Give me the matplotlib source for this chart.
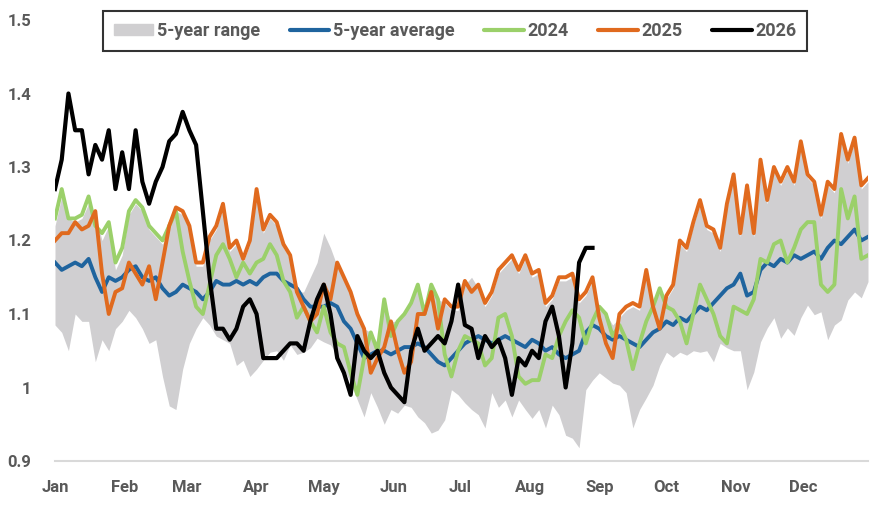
import matplotlib.pyplot as plt
import matplotlib.patches as mpatches
from matplotlib.lines import Line2D
import numpy as np

# день года (шаг 3 дня)
days = np.arange(0, 364, 3)

range_lo = [1.085, 1.075, 1.05, 1.10, 1.09, 1.09, 1.035, 1.065, 1.05, 1.08,
            1.09, 1.105, 1.095, 1.08, 1.06, 1.065, 1.015, 0.975, 0.97, 1.025,
            1.06, 1.08, 1.095, 1.085, 1.07, 1.065, 1.06, 1.03, 1.037, 1.015,
            1.025, 1.037, 1.048, 1.05, 1.037, 1.058, 1.045, 1.048, 1.054, 1.067,
            1.062, 1.058, 1.045, 1.025, 1.006, 0.983, 0.96, 0.993, 0.973, 0.95,
            0.97, 0.965, 0.976, 0.973, 0.96, 0.952, 0.938, 0.942, 0.956, 0.997,
            0.99, 0.979, 0.97, 0.963, 0.945, 0.993, 0.973, 0.983, 0.96, 0.983,
            0.97, 0.958, 0.97, 0.945, 0.976, 0.963, 0.935, 0.931, 0.918, 0.997,
            1.01, 1.02, 1.013, 1.006, 1.003, 0.993, 0.945, 0.97, 0.986, 1.003,
            1.03, 1.048, 1.041, 1.048, 1.044, 1.05, 1.048, 1.05, 1.035, 1.06,
            1.054, 1.05, 1.05, 0.997, 1.021, 1.062, 1.081, 1.095, 1.067, 1.081,
            1.071, 1.095, 1.112, 1.099, 1.103, 1.065, 1.085, 1.092, 1.119, 1.13,
            1.122, 1.144]

range_hi = [1.22, 1.26, 1.23, 1.225, 1.23, 1.25, 1.235, 1.20, 1.22, 1.16,
            1.18, 1.235, 1.25, 1.24, 1.215, 1.205, 1.195, 1.215, 1.24, 1.235,
            1.215, 1.165, 1.165, 1.20, 1.215, 1.245, 1.185, 1.195, 1.17, 1.195,
            1.26, 1.21, 1.23, 1.22, 1.19, 1.175, 1.13, 1.13, 1.15, 1.17,
            1.21, 1.19, 1.165, 1.145, 1.125, 1.10, 1.08, 1.075, 1.06, 1.115,
            1.09, 1.09, 1.10, 1.115, 1.135, 1.10, 1.14, 1.12, 1.115, 1.105,
            1.105, 1.14, 1.15, 1.135, 1.11, 1.125, 1.155, 1.165, 1.175, 1.155,
            1.175, 1.15, 1.155, 1.11, 1.12, 1.145, 1.145, 1.15, 1.115, 1.125,
            1.145, 1.105, 1.10, 1.085, 1.095, 1.105, 1.11, 1.105, 1.155, 1.11,
            1.13, 1.12, 1.135, 1.195, 1.185, 1.22, 1.25, 1.215, 1.21, 1.185,
            1.245, 1.285, 1.205, 1.27, 1.205, 1.305, 1.25, 1.295, 1.275, 1.295,
            1.275, 1.33, 1.285, 1.275, 1.23, 1.275, 1.265, 1.34, 1.305, 1.335,
            1.27, 1.28]

avg5 = [1.17, 1.16, 1.165, 1.17, 1.165, 1.175, 1.15, 1.13, 1.15, 1.145,
        1.15, 1.16, 1.165, 1.15, 1.145, 1.15, 1.135, 1.125, 1.13, 1.14,
        1.135, 1.13, 1.12, 1.13, 1.145, 1.14, 1.14, 1.145, 1.14, 1.145,
        1.14, 1.15, 1.155, 1.155, 1.145, 1.14, 1.135, 1.12, 1.11, 1.11,
        1.11, 1.115, 1.11, 1.09, 1.08, 1.06, 1.04, 1.045, 1.05, 1.05,
        1.045, 1.05, 1.055, 1.055, 1.06, 1.055, 1.045, 1.035, 1.03, 1.04,
        1.05, 1.06, 1.065, 1.07, 1.065, 1.06, 1.065, 1.07, 1.065, 1.06,
        1.055, 1.065, 1.06, 1.05, 1.055, 1.045, 1.04, 1.045, 1.05, 1.075,
        1.085, 1.08, 1.07, 1.065, 1.07, 1.065, 1.06, 1.055, 1.065, 1.075,
        1.08, 1.09, 1.085, 1.095, 1.09, 1.10, 1.11, 1.105, 1.115, 1.125,
        1.135, 1.14, 1.155, 1.125, 1.13, 1.16, 1.17, 1.165, 1.175, 1.17,
        1.18, 1.175, 1.18, 1.185, 1.175, 1.19, 1.20, 1.195, 1.205, 1.215,
        1.20, 1.205]

y2024 = [1.23, 1.27, 1.23, 1.23, 1.235, 1.26, 1.22, 1.21, 1.225, 1.17,
         1.19, 1.24, 1.255, 1.245, 1.22, 1.21, 1.20, 1.22, 1.24, 1.185,
         1.145, 1.11, 1.10, 1.14, 1.18, 1.195, 1.175, 1.15, 1.17, 1.155,
         1.17, 1.175, 1.195, 1.18, 1.145, 1.13, 1.095, 1.11, 1.09, 1.075,
         1.11, 1.075, 1.06, 1.055, 1.02, 0.99, 1.04, 1.075, 1.05, 1.12,
         1.07, 1.09, 1.10, 1.115, 1.14, 1.10, 1.14, 1.12, 1.045, 1.015,
         1.05, 1.07, 1.065, 1.06, 1.03, 1.04, 1.095, 1.10, 1.07, 1.015,
         1.005, 1.01, 1.01, 1.045, 1.04, 1.07, 1.09, 1.105, 1.095, 1.06,
         1.09, 1.11, 1.10, 1.07, 1.085, 1.065, 1.025, 1.06, 1.09, 1.11,
         1.135, 1.11, 1.105, 1.09, 1.06, 1.10, 1.14, 1.12, 1.10, 1.07,
         1.06, 1.11, 1.105, 1.10, 1.12, 1.175, 1.17, 1.195, 1.20, 1.17,
         1.19, 1.215, 1.225, 1.225, 1.14, 1.13, 1.14, 1.27, 1.23, 1.26,
         1.175, 1.18]

y2025 = [1.20, 1.21, 1.21, 1.225, 1.215, 1.22, 1.24, 1.155, 1.10, 1.13,
         1.135, 1.17, 1.155, 1.14, 1.165, 1.12, 1.17, 1.22, 1.245, 1.24,
         1.22, 1.17, 1.17, 1.205, 1.22, 1.25, 1.19, 1.20, 1.175, 1.20,
         1.27, 1.215, 1.235, 1.225, 1.195, 1.18, 1.13, 1.11, 1.09, 1.10,
         1.14, 1.12, 1.17, 1.15, 1.13, 1.10, 1.08, 1.02, 1.04, 1.055,
         1.09, 1.05, 1.02, 1.035, 1.10, 1.10, 1.13, 1.08, 1.12, 1.11,
         1.11, 1.145, 1.13, 1.14, 1.115, 1.13, 1.16, 1.17, 1.18, 1.16,
         1.18, 1.155, 1.16, 1.115, 1.125, 1.15, 1.15, 1.155, 1.12, 1.13,
         1.15, 1.095, 1.06, 1.04, 1.10, 1.11, 1.115, 1.11, 1.16, 1.11,
         1.08, 1.125, 1.14, 1.20, 1.19, 1.225, 1.255, 1.22, 1.215, 1.19,
         1.25, 1.29, 1.21, 1.275, 1.21, 1.31, 1.255, 1.30, 1.28, 1.30,
         1.28, 1.335, 1.29, 1.28, 1.235, 1.28, 1.27, 1.345, 1.31, 1.34,
         1.275, 1.285]

y2026 = [1.27, 1.31, 1.40, 1.35, 1.35, 1.29, 1.33, 1.31, 1.35, 1.27,
         1.32, 1.27, 1.35, 1.28, 1.25, 1.28, 1.30, 1.335, 1.345, 1.375,
         1.35, 1.33, 1.24, 1.15, 1.08, 1.08, 1.065, 1.08, 1.11, 1.12,
         1.10, 1.04, 1.04, 1.04, 1.05, 1.06, 1.06, 1.05, 1.09, 1.12,
         1.14, 1.10, 1.04, 1.02, 0.99, 1.07, 1.05, 1.04, 1.05, 1.02,
         1.00, 0.99, 0.98, 1.05, 1.08, 1.05, 1.06, 1.07, 1.06, 1.09,
         1.14, 1.085, 1.08, 1.04, 1.07, 1.055, 1.065, 1.04, 0.99, 1.04,
         1.03, 1.05, 1.04, 1.09, 1.11, 1.07, 1.00, 1.06, 1.17, 1.19,
         1.19]

month_days = [0, 31, 59, 90, 120, 151, 181, 212, 243, 273, 304, 334]
month_labels = ['Jan', 'Feb', 'Mar', 'Apr', 'May', 'Jun',
                'Jul', 'Aug', 'Sep', 'Oct', 'Nov', 'Dec']

c_range = '#d0cfd1'
c_avg = '#1f649e'
c_2024 = '#9bd06a'
c_2025 = '#e06a1e'
c_2026 = '#000000'
c_text = '#595959'

plt.rcParams['font.family'] = ['Roboto', 'DejaVu Sans']
plt.rcParams['font.weight'] = 'bold'

fig = plt.figure(figsize=(8.91, 5.12), dpi=100)
ax = fig.add_axes([55 / 891, 1 - 461 / 512, 813 / 891, 441 / 512])

ax.fill_between(days, range_lo, range_hi, color=c_range, linewidth=0)
ax.plot(days, avg5, color=c_avg, lw=2.8)
ax.plot(days, y2024, color=c_2024, lw=2.8)
ax.plot(days, y2025, color=c_2025, lw=2.8)
ax.plot(days[:len(y2026)], y2026, color=c_2026, lw=3.0)

ax.set_xlim(0, 363)
ax.set_ylim(0.9, 1.5)
ax.set_yticks([0.9, 1.0, 1.1, 1.2, 1.3, 1.4, 1.5])
ax.set_yticklabels(['0.9', '1', '1.1', '1.2', '1.3', '1.4', '1.5'])
ax.set_xticks(month_days)
ax.set_xticklabels(month_labels)
ax.tick_params(length=0, labelsize=12, colors=c_text)
ax.tick_params(axis='y', pad=17)
ax.tick_params(axis='x', pad=14)
for lbl in ax.get_xticklabels() + ax.get_yticklabels():
    lbl.set_fontweight('bold')

for s in ['top', 'right', 'left']:
    ax.spines[s].set_visible(False)
ax.spines['bottom'].set_color('#d9d9d9')
ax.spines['bottom'].set_linewidth(1.5)

handles = [
    mpatches.Patch(color=c_range, label='5-year range'),
    Line2D([], [], color=c_avg, lw=3, solid_capstyle='round', label='5-year average'),
    Line2D([], [], color=c_2024, lw=3, solid_capstyle='round', label='2024'),
    Line2D([], [], color=c_2025, lw=3, solid_capstyle='round', label='2025'),
    Line2D([], [], color=c_2026, lw=3, solid_capstyle='round', label='2026'),
]
leg = ax.legend(handles=handles, ncol=5, loc='center', bbox_to_anchor=(0.492, 0.975),
                frameon=True, fancybox=False, fontsize=13, handlelength=2.2,
                handleheight=0.55, handletextpad=0.2, columnspacing=1.63,
                borderpad=0.6, borderaxespad=0, labelcolor=c_text)
leg.get_frame().set_edgecolor('black')
leg.get_frame().set_linewidth(1.5)
for t in leg.get_texts():
    t.set_fontweight('bold')

fig.savefig('out.png', dpi=100)
